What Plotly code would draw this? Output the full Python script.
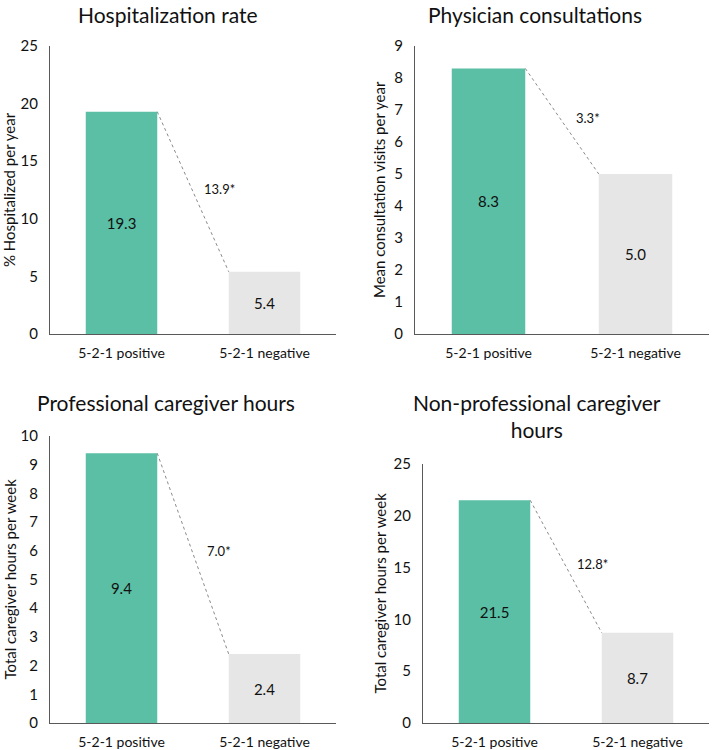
import plotly.graph_objects as go

categories = ["5-2-1 positive", "5-2-1 negative"]
titles = ["Hospitalization rate", "Physician consultations",
          "Professional caregiver hours", "Non-professional caregiver<br>hours"]
y_titles = ["% Hospitalized per year", "Mean consultation visits per year",
            "Total caregiver hours per week", "Total caregiver hours per week"]
hosp = [19.3, 5.4]
phys = [8.3, 5.0]
prof = [9.4, 2.4]
nonprof = [21.5, 8.7]
diff_labels = ["13.9*", "3.3*", "7.0*", "12.8*"]
y_max = [25, 9, 10, 25]
y_dtick = [5, 1, 1, 5]
series = [hosp, phys, prof, nonprof]

W, H = 712, 750
FONT = "Lato"
GREEN = "#5BBFA5"
GREY = "#E6E6E6"
AXIS = "#595959"


def fx(px):
    return px / W


def fy(py):
    return 1 - py / H


# window-pixel layout of each panel
panels = [
    dict(x0=50, x1=336, yt=46, yb=334, tx=168, ty=14, ax=9),
    dict(x0=415, x1=709, yt=46, yb=334, tx=535, ty=14, ax=379),
    dict(x0=50, x1=336, yt=436, yb=723, tx=166, ty=402, ax=9),
    dict(x0=423, x1=709, yt=464, yb=723, tx=537, ty=416, ax=379),
]

fig = go.Figure()
annotations = []
layout = {}
for i, p in enumerate(panels):
    n = "" if i == 0 else str(i + 1)
    xa, ya = "x" + n, "y" + n
    vals = series[i]
    fig.add_trace(go.Bar(
        x=[0, 1], y=vals, width=0.5,
        marker=dict(color=[GREEN, GREY], line=dict(width=0)),
        text=[f"{v:.1f}" for v in vals], textposition="inside",
        insidetextanchor="middle", textangle=0,
        textfont=dict(family=FONT, size=15, color="#111111"),
        xaxis=xa, yaxis=ya, showlegend=False, hoverinfo="skip"))
    fig.add_trace(go.Scatter(
        x=[0.25, 0.75], y=vals, mode="lines",
        line=dict(color="#8a8a8a", width=1, dash="3px,3px"),
        xaxis=xa, yaxis=ya, showlegend=False, hoverinfo="skip"))
    layout["xaxis" + n] = dict(
        domain=[fx(p["x0"]), fx(p["x1"])], anchor=ya, range=[-0.5, 1.5],
        tickvals=[0, 1], ticktext=categories, showgrid=False, zeroline=False,
        showline=True, linecolor=AXIS, linewidth=1, automargin=False,
        ticks="outside", ticklen=6, tickcolor="rgba(0,0,0,0)",
        tickfont=dict(family=FONT, size=14, color="#111111"), fixedrange=True)
    layout["yaxis" + n] = dict(
        domain=[fy(p["yb"]), fy(p["yt"])], anchor=xa,
        range=[0, y_max[i]], dtick=y_dtick[i], tick0=0, showgrid=False,
        zeroline=False, showline=True, linecolor=AXIS, linewidth=1,
        automargin=False,
        ticks="outside", ticklen=8, tickcolor="rgba(0,0,0,0)",
        tickfont=dict(family=FONT, size=15, color="#111111"), fixedrange=True)
    annotations.append(dict(
        x=fx(p["tx"]), y=fy(p["ty"]), xref="paper", yref="paper",
        text=titles[i], showarrow=False, xanchor="center", yanchor="middle",
        font=dict(family=FONT, size=21, color="#111111")))
    annotations.append(dict(
        x=fx(p["ax"]), y=fy((p["yt"] + p["yb"]) / 2), xref="paper", yref="paper",
        text=y_titles[i], showarrow=False, textangle=-90,
        xanchor="center", yanchor="middle",
        font=dict(family=FONT, size=15, color="#111111")))
    annotations.append(dict(
        x=0.5, y=(vals[0] + vals[1]) / 2, xref=xa, yref=ya,
        text=diff_labels[i], showarrow=False, xshift=26, yshift=3,
        font=dict(family=FONT, size=13, color="#111111")))

fig.update_layout(
    width=W, height=H, margin=dict(l=0, r=0, t=0, b=0, autoexpand=False),
    paper_bgcolor="white", plot_bgcolor="white", hovermode=False,
    annotations=annotations, **layout)

fig.write_html("out.html",
               config={"displayModeBar": False, "staticPlot": True},
               post_script="document.body.style.margin='0';"
                           "document.body.style.overflow='hidden';")
